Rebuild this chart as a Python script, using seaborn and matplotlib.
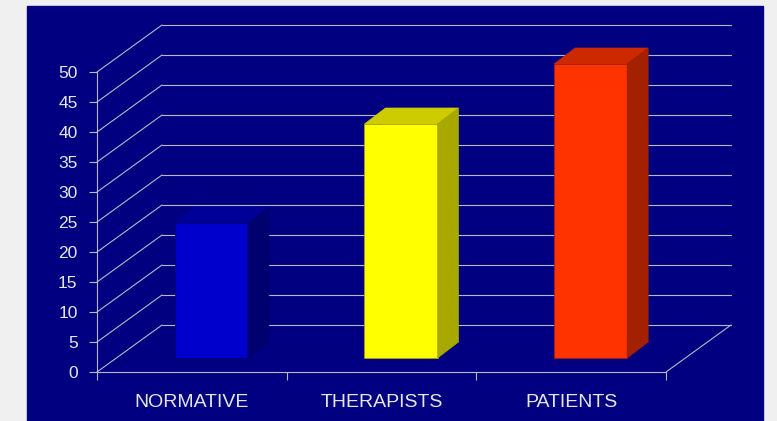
import matplotlib
matplotlib.use("Agg")
from matplotlib import pyplot as plt
from matplotlib.patches import Polygon, Rectangle
from matplotlib.transforms import ScaledTranslation
import seaborn as sns

categories = ["NORMATIVE", "THERAPISTS", "PATIENTS"]
values = [22.5, 39, 49]
front_colors = ["#0000CC", "#FFFF00", "#FF3300"]
top_colors = ["#000099", "#CCCC00", "#CC2900"]
side_colors = ["#00006E", "#A8A800", "#A32000"]
y_ticks = list(range(0, 55, 5))

# 3d look, in pixels (dpi 100)
wall_dx, wall_dy = 65, 47
bar_front_dx, bar_front_dy = 19.5, 14
bar_dx, bar_dy = 21, 16

navy = "#000080"
grid_col = "#b8b8c8"
text_col = "#e6e6e6"

sns.set_style("white")
plt.rcParams["font.family"] = ["Liberation Sans", "DejaVu Sans"]

fig = plt.figure(figsize=(7.77, 4.21), dpi=100, facecolor="#f0f0f0")
fig.patches.append(Rectangle((27 / 777, 0), 736 / 777, 415 / 421,
                             transform=fig.transFigure, color=navy, zorder=-10))
ax = fig.add_axes([97 / 777, 49 / 421, 569 / 777, 300 / 421])
ax.set_facecolor("none")

sns.barplot(x=categories, y=values, hue=categories, palette=front_colors,
            saturation=1, width=0.385, legend=False, ax=ax, zorder=3)
ax.set_xlim(-0.5, 2.5)
ax.set_ylim(0, 50)

def shift(dx, dy):
    return ax.transData + ScaledTranslation(dx / 100, dy / 100, fig.dpi_scale_trans)

# back wall grid and the diagonals to the front axis
back = shift(wall_dx, wall_dy)
for v in y_ticks:
    ax.plot([-0.5, 2.5], [v, v], color=grid_col, lw=0.8, transform=back,
            clip_on=False, zorder=1)
    p0 = ax.transData.transform((-0.5, v))
    ax.plot([p0[0], p0[0] + wall_dx], [p0[1], p0[1] + wall_dy], color=grid_col,
            lw=0.8, transform=None, clip_on=False, zorder=1)
p0 = ax.transData.transform((2.5, 0))
ax.plot([p0[0], p0[0] + wall_dx], [p0[1], p0[1] + wall_dy], color=grid_col,
        lw=0.8, transform=None, clip_on=False, zorder=1)

# bars: move front face into depth, add top and side faces
front = shift(bar_front_dx, bar_front_dy)
bars = sorted(ax.patches, key=lambda p: p.get_x())
for i, bar in enumerate(bars):
    bar.set_transform(front)
    bar.set_edgecolor(side_colors[i])
    bar.set_linewidth(0.5)
    bar.set_clip_on(False)
    x0, x1 = bar.get_x(), bar.get_x() + bar.get_width()
    h = bar.get_height()
    (ax0, ay0), (ax1, ay1) = front.transform([(x0, 0), (x1, h)])
    top = [(ax0, ay1), (ax1, ay1), (ax1 + bar_dx, ay1 + bar_dy), (ax0 + bar_dx, ay1 + bar_dy)]
    side = [(ax1, ay0), (ax1, ay1), (ax1 + bar_dx, ay1 + bar_dy), (ax1 + bar_dx, ay0 + bar_dy)]
    for pts, c in [(top, top_colors[i]), (side, side_colors[i])]:
        ax.add_patch(Polygon(pts, closed=True, facecolor=c, edgecolor=c, lw=0.5,
                             transform=None, clip_on=False, zorder=3))

for s in ["top", "right"]:
    ax.spines[s].set_visible(False)
for s in ["left", "bottom"]:
    ax.spines[s].set_color(grid_col)
    ax.spines[s].set_linewidth(0.8)

ax.set_yticks(y_ticks)
ax.tick_params(axis="y", colors=grid_col, labelcolor=text_col, labelsize=12.5,
               length=6, width=0.8, pad=8, left=True)
ax.set_xticks(range(len(categories)))
ax.set_xticklabels(categories)
ax.set_xticks([-0.5, 0.5, 1.5, 2.5], minor=True)
ax.tick_params(axis="x", which="major", length=0, labelcolor=text_col,
               labelsize=14, pad=16)
ax.tick_params(axis="x", which="minor", length=6, width=0.8, colors=grid_col, bottom=True)
ax.set_xlabel("")
ax.set_ylabel("")

fig.savefig("out.png", dpi=100, facecolor=fig.get_facecolor())
